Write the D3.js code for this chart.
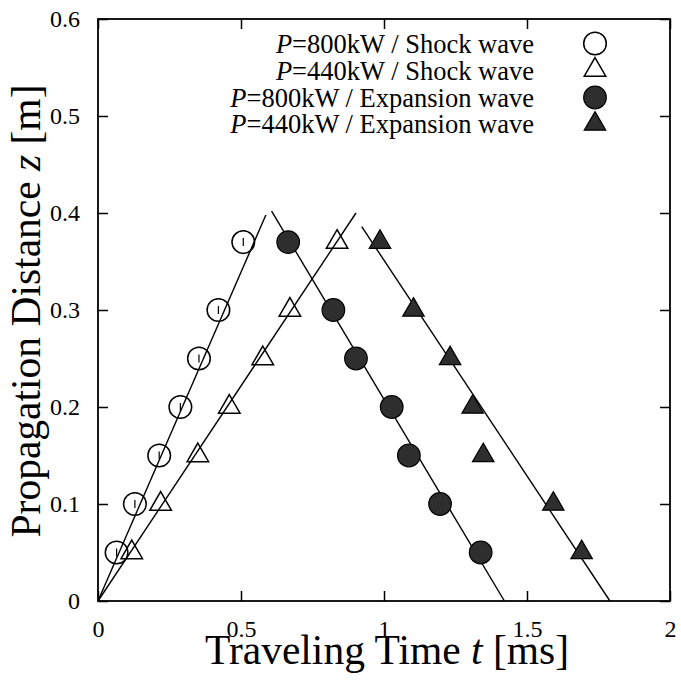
<!DOCTYPE html>
<html>
<head>
<meta charset="utf-8">
<script src="https://cdn.jsdelivr.net/npm/d3@7"></script>
<style>
  html, body { margin: 0; padding: 0; background: #fff; }
  svg { display: block; }
  text { font-family: "Liberation Serif", "Times New Roman", serif; fill: #000; }
</style>
</head>
<body>
<svg id="chart" width="681" height="681"></svg>
<script>
// Propagation distance (m) of each measurement station
const distance = [0.05, 0.10, 0.15, 0.20, 0.25, 0.30, 0.37];

// Arrival times (ms) at each station
const shock800 = [0.065, 0.129, 0.214, 0.288, 0.353, 0.421, 0.508];
const shock440 = [0.118, 0.219, 0.349, 0.459, 0.576, 0.671, 0.836];
const expansion800 = [1.338, 1.196, 1.087, 1.027, 0.902, 0.823, 0.665];
const expansion440 = [1.691, 1.592, 1.347, 1.310, 1.231, 1.103, 0.986];

// Linear fits: [t, z] end points
const fitShock800 = [[0, 0], [0.587, 0.398]];
const fitShock440 = [[0, 0], [0.902, 0.400]];
const fitExpansion800 = [[0.607, 0.402], [1.421, 0]];
const fitExpansion440 = [[0.922, 0.386], [1.790, 0]];

const xTicks = [0, 0.5, 1, 1.5, 2];
const yTicks = [0, 0.1, 0.2, 0.3, 0.4, 0.5, 0.6];

const legendLabels = [
  ["P", "=800kW / Shock wave"],
  ["P", "=440kW / Shock wave"],
  ["P", "=800kW / Expansion wave"],
  ["P", "=440kW / Expansion wave"]
];

const svg = d3.select("#chart");
const plotL = 98, plotR = 670, plotT = 19, plotB = 601;

const x = d3.scaleLinear().domain([0, 2]).range([plotL, plotR]);
const y = d3.scaleLinear().domain([0, 0.6]).range([plotB, plotT]);

const fmt = d => (d === 0 ? "0" : d3.format("~g")(d));

// Axes with inward ticks on all four sides
const gx = svg.append("g").attr("transform", `translate(0,${plotB})`)
  .call(d3.axisBottom(x).tickValues(xTicks).tickFormat(fmt).tickSizeInner(-10).tickSizeOuter(0).tickPadding(19));
const gy = svg.append("g").attr("transform", `translate(${plotL},0)`)
  .call(d3.axisLeft(y).tickValues(yTicks).tickFormat(fmt).tickSizeInner(-10).tickSizeOuter(0).tickPadding(18));
const gt = svg.append("g").attr("transform", `translate(0,${plotT})`)
  .call(d3.axisTop(x).tickValues(xTicks).tickFormat("").tickSizeInner(-10).tickSizeOuter(0));
const gr = svg.append("g").attr("transform", `translate(${plotR},0)`)
  .call(d3.axisRight(y).tickValues(yTicks).tickFormat("").tickSizeInner(-10).tickSizeOuter(0));

[gx, gy, gt, gr].forEach(g => {
  g.attr("font-family", null);
  g.select(".domain").remove();
  g.selectAll(".tick line").attr("stroke", "#000").attr("stroke-width", 1.5);
  g.selectAll("text").attr("font-size", 24).attr("fill", "#000");
});

// Frame
svg.append("rect")
  .attr("x", plotL).attr("y", plotT)
  .attr("width", plotR - plotL).attr("height", plotB - plotT)
  .attr("fill", "none").attr("stroke", "#000").attr("stroke-width", 1.8);

// Fit lines
const line = d3.line().x(d => x(d[0])).y(d => y(d[1]));
[fitShock800, fitShock440, fitExpansion800, fitExpansion440].forEach(f => {
  svg.append("path").attr("d", line(f))
    .attr("fill", "none").attr("stroke", "#000").attr("stroke-width", 1.4);
});

const tri = d3.symbol().type(d3.symbolTriangle).size(200);
const darkFill = "#2e2e2e";

function openCircles(g, times) {
  const sel = g.selectAll(null).data(times.map((t, i) => [t, distance[i]])).enter();
  sel.append("circle")
    .attr("cx", d => x(d[0])).attr("cy", d => y(d[1])).attr("r", 11.3)
    .attr("fill", "none").attr("stroke", "#000").attr("stroke-width", 1.5);
  sel.append("line")
    .attr("x1", d => x(d[0])).attr("x2", d => x(d[0]))
    .attr("y1", d => y(d[1]) - 4).attr("y2", d => y(d[1]) + 4)
    .attr("stroke", "#000").attr("stroke-width", 1.2);
}
function filledCircles(g, times) {
  g.selectAll(null).data(times.map((t, i) => [t, distance[i]])).enter()
    .append("circle")
    .attr("cx", d => x(d[0])).attr("cy", d => y(d[1])).attr("r", 11.3)
    .attr("fill", darkFill).attr("stroke", "#000").attr("stroke-width", 1.2);
}
function triangles(g, times, filled) {
  g.selectAll(null).data(times.map((t, i) => [t, distance[i]])).enter()
    .append("path")
    .attr("d", tri)
    .attr("transform", d => `translate(${x(d[0])},${y(d[1])})`)
    .attr("fill", filled ? darkFill : "none")
    .attr("stroke", "#000").attr("stroke-width", filled ? 1.2 : 1.5);
}

const marks = svg.append("g");
openCircles(marks, shock800);
triangles(marks, shock440, false);
filledCircles(marks, expansion800);
triangles(marks, expansion440, true);

// Legend
const legendY = [53, 80, 107, 133];
const markerY = [43.5, 70, 97.5, 124];
const lg = svg.append("g");
legendLabels.forEach((lab, i) => {
  const t = lg.append("text")
    .attr("x", 534).attr("y", legendY[i])
    .attr("text-anchor", "end").attr("font-size", 26.5);
  t.append("tspan").attr("font-style", "italic").text(lab[0]);
  t.append("tspan").text(lab[1]);
});
lg.append("circle").attr("cx", 595).attr("cy", markerY[0]).attr("r", 11.3)
  .attr("fill", "none").attr("stroke", "#000").attr("stroke-width", 1.5);
lg.append("path").attr("d", tri).attr("transform", `translate(595,${markerY[1]})`)
  .attr("fill", "none").attr("stroke", "#000").attr("stroke-width", 1.5);
lg.append("circle").attr("cx", 595).attr("cy", markerY[2]).attr("r", 11.3)
  .attr("fill", darkFill).attr("stroke", "#000").attr("stroke-width", 1.2);
lg.append("path").attr("d", tri).attr("transform", `translate(595,${markerY[3]})`)
  .attr("fill", darkFill).attr("stroke", "#000").attr("stroke-width", 1.2);

// Axis titles
const xt = svg.append("text")
  .attr("x", (plotL + plotR) / 2 + 3).attr("y", 664)
  .attr("text-anchor", "middle").attr("font-size", 41.5);
xt.append("tspan").text("Traveling Time ");
xt.append("tspan").attr("font-style", "italic").text("t");
xt.append("tspan").text(" [ms]");

const yt = svg.append("text")
  .attr("transform", `translate(40,${(plotT + plotB) / 2 + 1}) rotate(-90)`)
  .attr("text-anchor", "middle").attr("font-size", 41.5);
yt.append("tspan").text("Propagation Distance ");
yt.append("tspan").attr("font-style", "italic").text("z");
yt.append("tspan").text(" [m]");
</script>
</body>
</html>
